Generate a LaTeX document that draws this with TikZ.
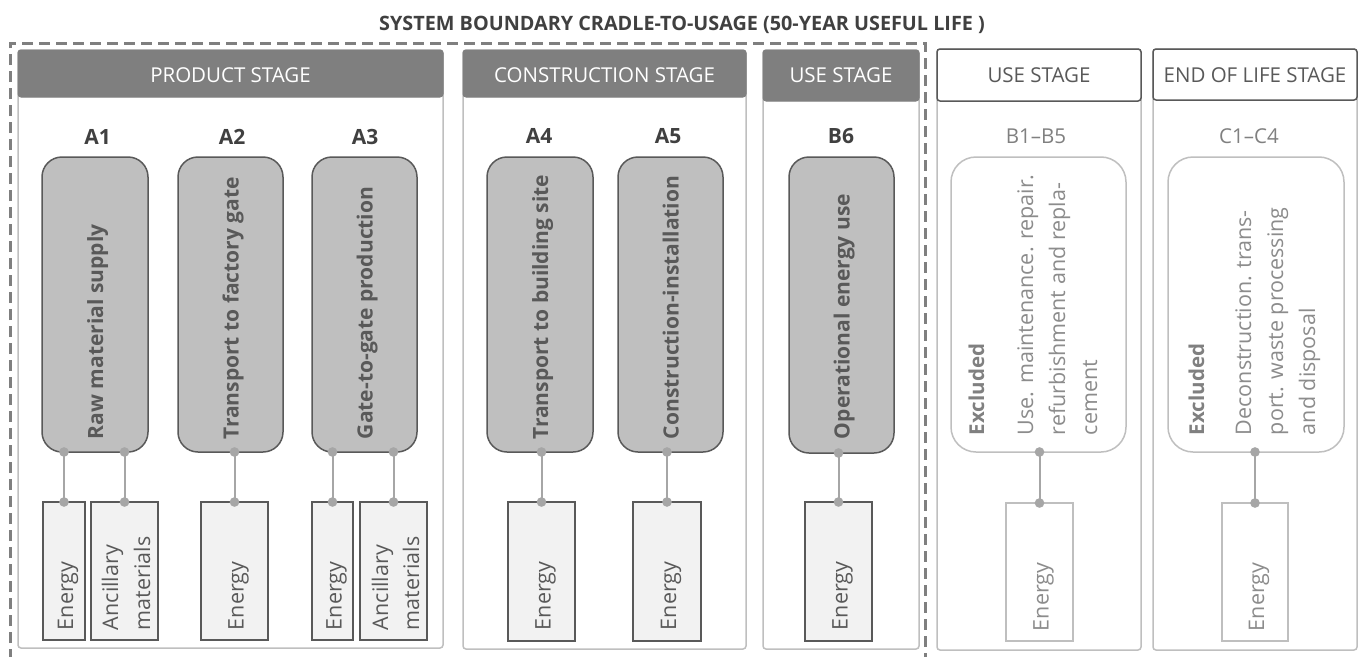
\documentclass[tikz,border=0pt]{standalone}
\usepackage{fontspec}
\setmainfont{Open Sans}
\usetikzlibrary{arrows.meta}
\definecolor{cHdr}{HTML}{7F7F7F}
\definecolor{cDark}{HTML}{595959}
\definecolor{cProc}{HTML}{BFBFBF}
\definecolor{cIn}{HTML}{F2F2F2}
\definecolor{cPanel}{HTML}{BFBFBF}
\definecolor{cConn}{HTML}{A6A6A6}
\definecolor{cTxt}{HTML}{404040}
\definecolor{cGray}{HTML}{808080}
\definecolor{cLight}{HTML}{8C8C8C}
\newcommand\mkbox[6]{\node[#2,inner sep=0pt,outer sep=0pt,minimum width={#5-#3},minimum height={#6-#4}] (#1) at ({(#3+#5)/2},{(#4+#6)/2}) {};}
\newcommand\fsA{\fontsize{20.5}{24}\selectfont}
\newcommand\fsB{\fontsize{21.5}{25}\selectfont}
\newcommand\fsC{\fontsize{21}{25}\selectfont}
\begin{document}
\begin{tikzpicture}[x=1pt,y=-1pt,
  panel/.style={draw=cPanel,line width=1.5pt,fill=white,rounded corners=3pt},
  hdrdark/.style={draw=cHdr,fill=cHdr,line width=1pt,rounded corners=3pt},
  hdrwhite/.style={draw=cDark,fill=white,line width=1.5pt,rounded corners=3pt},
  proc/.style={draw=cDark,fill=cProc,line width=1.5pt,rounded corners=20pt},
  excl/.style={draw=cPanel,fill=white,line width=1.5pt,rounded corners=25pt},
  inbox/.style={draw=cDark,fill=cIn,line width=1.2pt},
  exin/.style={draw=cPanel,fill=white,line width=1.5pt},
  conn/.style={draw=cConn,line width=2pt,{Circle[length=9.5pt]}-{Circle[length=9.5pt]},shorten <=-4.75pt,shorten >=-4.75pt},
  bound/.style={draw=cHdr,line width=3pt,dash pattern=on 11pt off 6pt},
  hdrtxt/.style={anchor=base,inner sep=0pt,font=\fsA},
  lbl/.style={anchor=base,inner sep=0pt,font=\fsC\bfseries,text=cTxt},
  lblx/.style={anchor=base,inner sep=0pt,font=\fsA,text=cGray},
  rt/.style={rotate=90,anchor=base west,inner sep=0pt,outer sep=0pt},
  ptxt/.style={rt,font=\fsC\bfseries,text=cDark},
  etxt/.style={rt,font=\fsB,text=cDark},
  xtxt/.style={rt,font=\fsB,text=cLight},
  xbold/.style={rt,font=\fsA\bfseries,text=cGray}
]
\useasboundingbox (0,0) rectangle (1362,656);
\fill[white] (0,0) rectangle (1362,656);

% title
\node[anchor=base,inner sep=0pt,font=\fontsize{19.8}{23}\selectfont\bfseries,text=cTxt] (title) at (682,30) {SYSTEM BOUNDARY CRADLE-TO-USAGE (50-YEAR USEFUL LIFE )};

% panels
\mkbox{Pbody}{panel}{18}{50}{443}{648}
\mkbox{Phdr}{hdrdark}{18}{50}{443}{97}
\node[hdrtxt,text=white] (Ptxt) at (230.5,82) {PRODUCT STAGE};

\mkbox{Cbody}{panel}{463}{50}{746}{649}
\mkbox{Chdr}{hdrdark}{463}{50}{746}{97}
\node[hdrtxt,text=white] (Ctxt) at (604.5,82) {CONSTRUCTION STAGE};

\mkbox{Ubody}{panel}{763}{50}{919}{649}
\mkbox{Uhdr}{hdrdark}{763}{50}{919}{101}
\node[hdrtxt,text=white] (Utxt) at (841,82.5) {USE STAGE};

\mkbox{Xbody}{panel}{937}{49}{1141}{650}
\mkbox{Xhdr}{hdrwhite}{937}{49}{1141}{101}
\node[hdrtxt,text=cDark] (Xtxt) at (1039,82.5) {USE STAGE};

\mkbox{Ebody}{panel}{1153}{49}{1357}{650}
\mkbox{Ehdr}{hdrwhite}{1153}{49}{1357}{100}
\node[hdrtxt,text=cDark] (Etxt) at (1255,82.5) {END OF LIFE STAGE};

% boundary
\coordinate (bl) at (10,660);
\coordinate (tl) at (10,43);
\coordinate (tr) at (925,43);
\coordinate (br) at (925,660);
\draw[bound] (bl) -- (tl) -- (tr) -- (br);

% module labels
\node[lbl] (lA1) at (97.5,144) {A1};
\node[lbl] (lA2) at (232,144) {A2};
\node[lbl] (lA3) at (365,144) {A3};
\node[lbl] (lA4) at (539,143) {A4};
\node[lbl] (lA5) at (668,143) {A5};
\node[lbl] (lB6) at (841,143) {B6};
\node[lblx] (lB15) at (1036,143) {B1--B5};
\node[lblx] (lC14) at (1249,143) {C1--C4};

% process boxes
\mkbox{A1}{proc}{42}{157}{148}{452}
\mkbox{A2}{proc}{178}{157}{283}{452}
\mkbox{A3}{proc}{312}{157}{417}{452}
\mkbox{A4}{proc}{487}{157}{593}{452}
\mkbox{A5}{proc}{618}{157}{723}{452}
\mkbox{B6}{proc}{789}{157}{894}{453}
\mkbox{XB}{excl}{951}{157}{1126}{452}
\mkbox{XC}{excl}{1168}{157}{1344}{452}

\node[ptxt] (tA1) at (103,439) {Raw material supply};
\node[ptxt] (tA2) at (238.5,439) {Transport to factory gate};
\node[ptxt] (tA3) at (372.5,439) {Gate-to-gate production};
\node[ptxt] (tA4) at (548,439) {Transport to building site};
\node[ptxt] (tA5) at (678.5,439) {Construction-installation};
\node[ptxt] (tB6) at (849.5,439) {Operational energy use};

\node[xbold] (xB0) at (984,435) {Excluded};
\node[xtxt] (xB1) at (1033,435) {Use. maintenance. repair.};
\node[xtxt] (xB2) at (1065,435) {refurbishment and repla-};
\node[xtxt] (xB3) at (1097,435) {cement};
\node[xbold] (xC0) at (1204,435) {Excluded};
\node[xtxt] (xC1) at (1251,435) {Deconstruction. trans-};
\node[xtxt] (xC2) at (1283,435) {port. waste processing};
\node[xtxt] (xC3) at (1315,435) {and disposal};

% input boxes
\mkbox{A1e}{inbox}{43}{502}{85}{640}
\mkbox{A1m}{inbox}{91}{502}{158}{640}
\mkbox{A2e}{inbox}{201}{502}{268}{640}
\mkbox{A3e}{inbox}{312}{502}{353}{640}
\mkbox{A3m}{inbox}{360}{502}{427}{640}
\mkbox{A4e}{inbox}{508}{502}{575}{641}
\mkbox{A5e}{inbox}{633}{502}{701}{641}
\mkbox{B6e}{inbox}{805}{502}{872}{641}
\mkbox{XBe}{exin}{1006}{503}{1073}{641}
\mkbox{XCe}{exin}{1222}{503}{1288}{641}

\node[etxt] (eA1) at (73,630) {Energy};
\node[etxt] (mA1a) at (118,630) {Ancillary};
\node[etxt] (mA1b) at (150,630) {materials};
\node[etxt] (eA2) at (243.5,630) {Energy};
\node[etxt] (eA3) at (341.5,630) {Energy};
\node[etxt] (mA3a) at (388,630) {Ancillary};
\node[etxt] (mA3b) at (419,630) {materials};
\node[etxt] (eA4) at (550.5,630) {Energy};
\node[etxt] (eA5) at (676,630) {Energy};
\node[etxt] (eB6) at (847.5,630) {Energy};
\node[xtxt] (eXB) at (1048.5,631) {Energy};
\node[xtxt] (eXC) at (1264,631) {Energy};

% connectors
\draw[conn] (A1e.north |- A1.south) -- (A1e.north);
\draw[conn] (A1m.north |- A1.south) -- (A1m.north);
\draw[conn] (A2e.north |- A2.south) -- (A2e.north);
\draw[conn] (A3e.north |- A3.south) -- (A3e.north);
\draw[conn] (A3m.north |- A3.south) -- (A3m.north);
\draw[conn] (A4e.north |- A4.south) -- (A4e.north);
\draw[conn] (A5e.north |- A5.south) -- (A5e.north);
\draw[conn] (B6e.north |- B6.south) -- (B6e.north);
\draw[conn] (XBe.north |- XB.south) -- (XBe.north);
\draw[conn] (XCe.north |- XC.south) -- (XCe.north);
\end{tikzpicture}
\end{document}
